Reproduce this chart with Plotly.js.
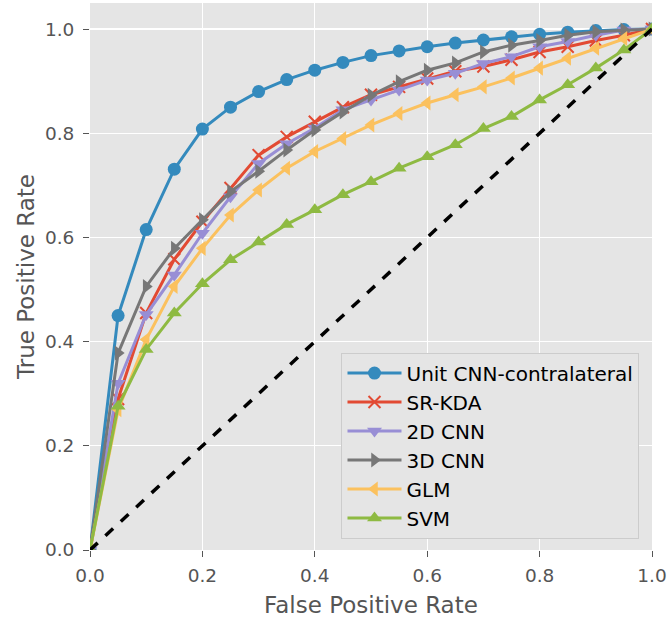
<!DOCTYPE html>
<html>
<head>
<meta charset="utf-8">
<script src="https://cdn.plot.ly/plotly-3.0.1.min.js"></script>
<style>html,body{margin:0;padding:0;background:#fff;}#chart{width:668px;height:619px;}</style>
</head>
<body>
<div id="chart"></div>
<script>
const fpr = [0, 0.05, 0.1, 0.15, 0.2, 0.25, 0.3, 0.35, 0.4, 0.45, 0.5, 0.55, 0.6, 0.65, 0.7, 0.75, 0.8, 0.85, 0.9, 0.95, 1.0];

const unitCnnTpr = [0, 0.450, 0.615, 0.731, 0.808, 0.850, 0.880, 0.903, 0.921, 0.936, 0.949, 0.958, 0.966, 0.973, 0.979, 0.985, 0.990, 0.994, 0.997, 0.999, 1.0];
const srKdaTpr   = [0, 0.290, 0.455, 0.558, 0.630, 0.695, 0.758, 0.793, 0.822, 0.850, 0.874, 0.889, 0.905, 0.919, 0.928, 0.941, 0.956, 0.966, 0.978, 0.988, 1.0];
const cnn2dTpr   = [0, 0.320, 0.452, 0.528, 0.608, 0.678, 0.742, 0.780, 0.810, 0.845, 0.864, 0.883, 0.902, 0.915, 0.934, 0.947, 0.966, 0.976, 0.988, 0.998, 1.0];
const cnn3dTpr   = [0, 0.378, 0.506, 0.579, 0.634, 0.688, 0.727, 0.768, 0.806, 0.841, 0.873, 0.899, 0.921, 0.935, 0.956, 0.969, 0.978, 0.988, 0.995, 0.998, 1.0];
const glmTpr     = [0, 0.269, 0.404, 0.506, 0.579, 0.643, 0.691, 0.733, 0.765, 0.790, 0.816, 0.838, 0.858, 0.874, 0.889, 0.906, 0.925, 0.944, 0.963, 0.982, 1.0];
const svmTpr     = [0, 0.276, 0.385, 0.455, 0.511, 0.557, 0.591, 0.625, 0.653, 0.682, 0.707, 0.733, 0.755, 0.778, 0.809, 0.832, 0.864, 0.893, 0.925, 0.960, 1.0];

const chanceX = [0, 1];
const chanceY = [0, 1];

const names   = ["Unit CNN-contralateral", "SR-KDA", "2D CNN", "3D CNN", "GLM", "SVM"];
const series  = [unitCnnTpr, srKdaTpr, cnn2dTpr, cnn3dTpr, glmTpr, svmTpr];
const colors  = ["#348ABD", "#E24A33", "#988ED5", "#777777", "#FBC15E", "#8EBA42"];
const symbols = ["circle", "x-thin-open", "triangle-down", "triangle-right", "triangle-left", "triangle-up"];
const sizes   = [13, 12, 13, 13, 13, 13];

const traces = series.map((ys, i) => ({
  x: fpr, y: ys, name: names[i], type: "scatter", mode: "lines+markers",
  line: {color: colors[i], width: 3},
  marker: {
    symbol: symbols[i], size: sizes[i], color: colors[i],
    line: {color: colors[i], width: symbols[i] === "x-thin-open" ? 2 : 0}
  }
}));
traces.push({
  x: chanceX, y: chanceY, type: "scatter", mode: "lines", showlegend: false,
  line: {color: "#000000", width: 3.5, dash: "dash"}
});

const tickFont = {family: "DejaVu Sans, sans-serif", size: 18.5, color: "#555555"};
const titleFont = {family: "DejaVu Sans, sans-serif", size: 23, color: "#555555"};

const layout = {
  width: 668, height: 619,
  margin: {l: 90, r: 15.5, t: 3, b: 68.5},
  paper_bgcolor: "#ffffff",
  plot_bgcolor: "#E5E5E5",
  showlegend: true,
  xaxis: {
    range: [0, 1], tickvals: [0, 0.2, 0.4, 0.6, 0.8, 1.0], ticktext: ["0.0", "0.2", "0.4", "0.6", "0.8", "1.0"],
    showgrid: true, gridcolor: "#ffffff", gridwidth: 1.3, zeroline: false, showline: false,
    ticks: "outside", ticklen: 6, tickwidth: 1, tickcolor: "#555555",
    ticklabelstandoff: 3,
    tickfont: tickFont,
    title: {text: "False Positive Rate", font: titleFont, standoff: 11},
    automargin: false
  },
  yaxis: {
    range: [0, 1.05], tickvals: [0, 0.2, 0.4, 0.6, 0.8, 1.0], ticktext: ["0.0", "0.2", "0.4", "0.6", "0.8", "1.0"],
    showgrid: true, gridcolor: "#ffffff", gridwidth: 1.3, zeroline: false, showline: false,
    ticks: "outside", ticklen: 6, tickwidth: 1, tickcolor: "#555555",
    ticklabelstandoff: 5,
    tickfont: tickFont,
    title: {text: "True Positive Rate", font: titleFont, standoff: 3},
    automargin: false
  },
  legend: {
    x: 0.4475, y: 0.361, xanchor: "left", yanchor: "top",
    bgcolor: "#E5E5E5", bordercolor: "#cccccc", borderwidth: 1,
    font: {family: "DejaVu Sans, sans-serif", size: 20, color: "#000000"},
    tracegroupgap: 0, itemwidth: 54
  }
};

Plotly.newPlot("chart", traces, layout, {staticPlot: true, displayModeBar: false});
</script>
</body>
</html>
